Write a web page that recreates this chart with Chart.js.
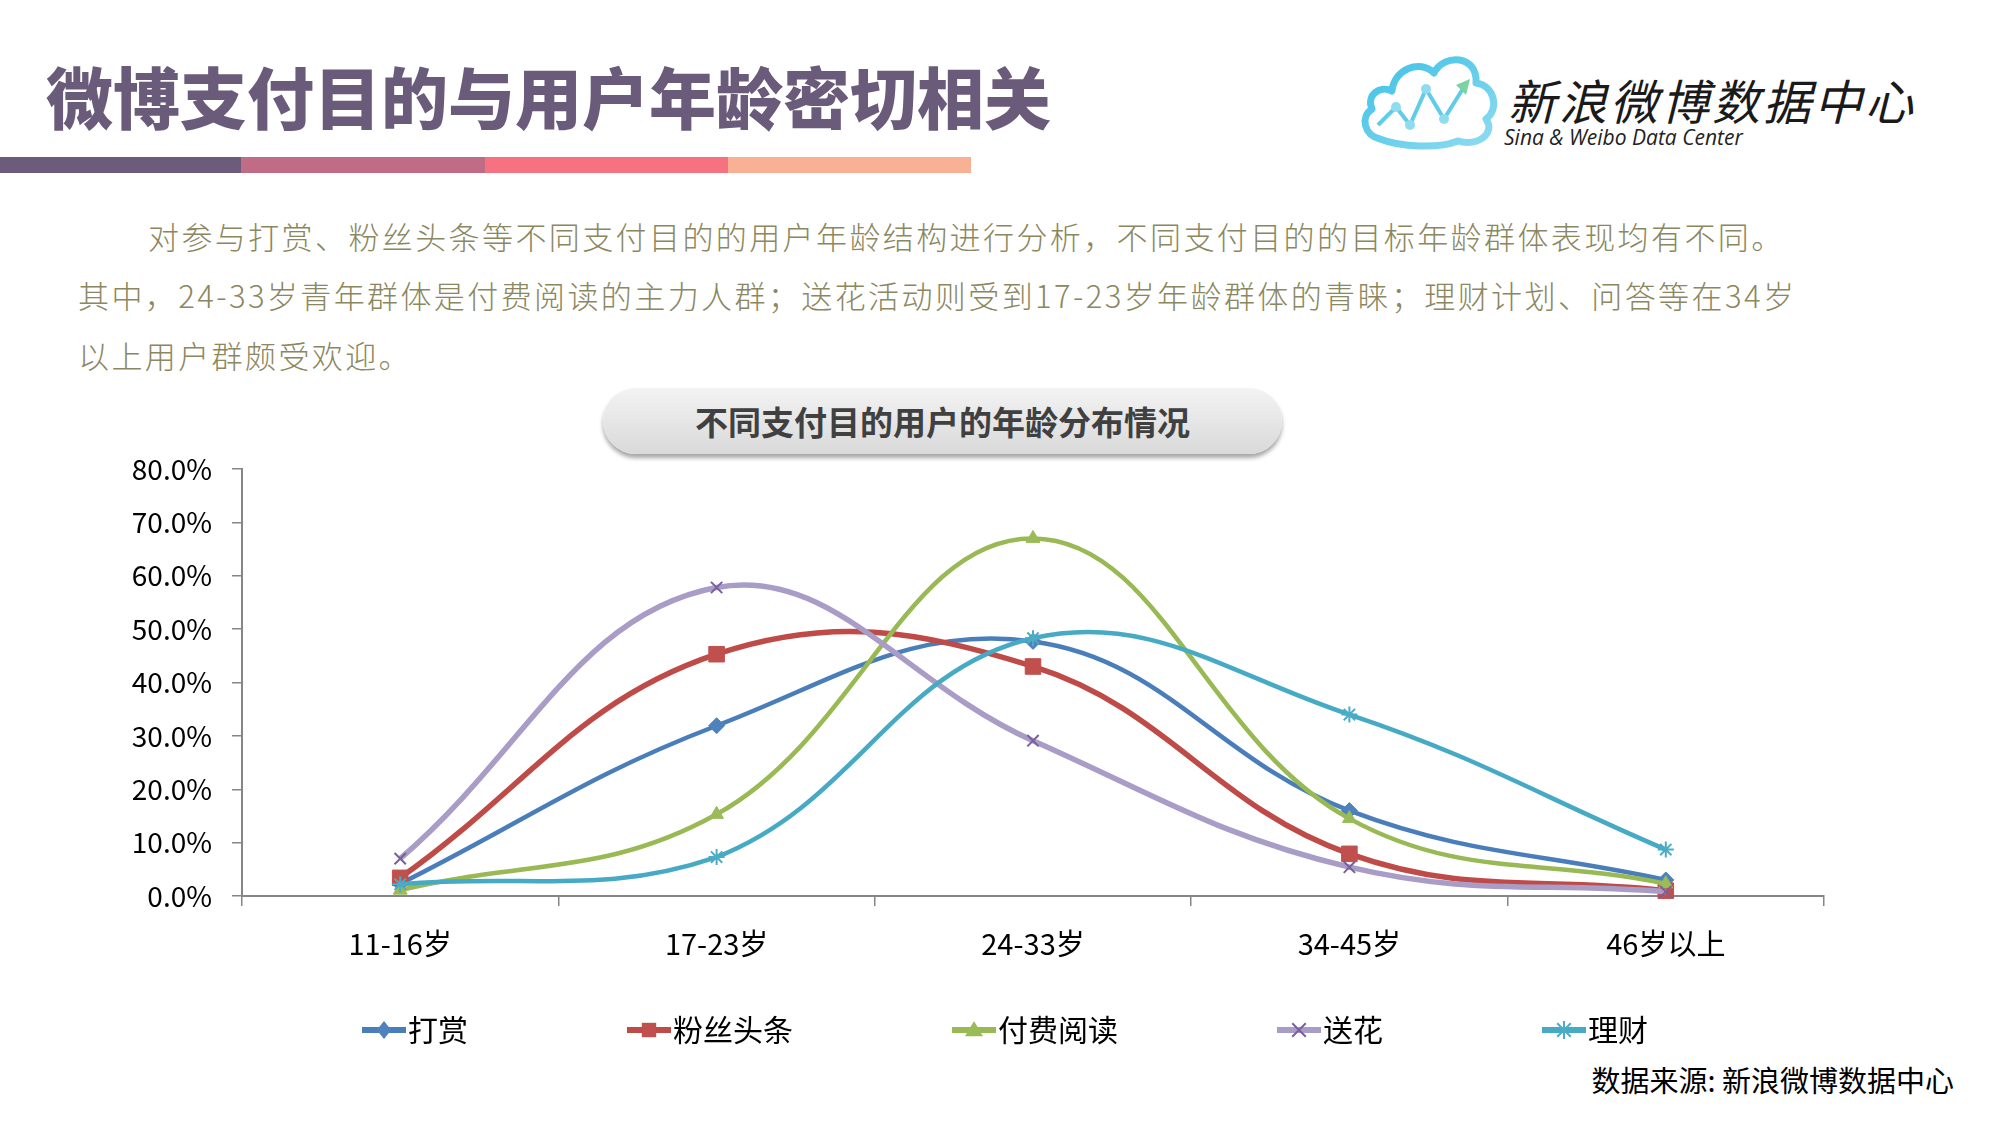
<!DOCTYPE html>
<html>
<head>
<meta charset="utf-8">
<script src="https://cdn.jsdelivr.net/npm/chart.js@4.4.1/dist/chart.umd.min.js"></script>
<style>
    html, body { margin: 0; padding: 0; background: #fff; }
    body { width: 2000px; height: 1125px; position: relative; overflow: hidden; font-family: 'Noto Sans CJK SC', 'Noto Sans', sans-serif; }
    .abs { position: absolute; white-space: nowrap; }
    #title { left: 46px; top: 60px; font-size: 67px; line-height: 70px; font-weight: 900; color: #6b5b7b; }
    .bar { position: absolute; top: 157px; height: 16px; }
    .para { font-size: 31px; line-height: 40px; letter-spacing: 2.4px; color: #8b8760; font-weight: 300; }
    #pill { left: 603px; top: 388px; width: 679px; height: 66px; border-radius: 33px;
            background: linear-gradient(#f3f3f3, #d9d9d9); box-shadow: 0 4px 4px rgba(0,0,0,0.35);
            text-align: center; line-height: 66px; font-size: 33px; font-weight: 700; color: #404040; }
    #logoCn { left: 1508px; top: 71px; font-size: 48px; line-height: 56px; font-style: italic; letter-spacing: 3px; color: #1a1a1a; }
    #logoEn { left: 1504px; top: 124px; font-size: 21px; line-height: 26px; font-style: italic; color: #222; font-family: 'Open Sans', sans-serif; }
    #source { right: 46px; top: 1059px; font-size: 29px; line-height: 40px; color: #000; }
    #chartBox { position: absolute; left: 0; top: 440px; width: 2000px; height: 615px; }
</style>
</head>
<body>
<div id="title" class="abs">微博支付目的与用户年龄密切相关</div>
<div class="bar" style="left:0;width:241px;background:#6c5b7b"></div>
<div class="bar" style="left:241px;width:244px;background:#c06c84"></div>
<div class="bar" style="left:485px;width:243px;background:#f67280"></div>
<div class="bar" style="left:728px;width:243px;background:#f8b195"></div>

<svg class="abs" style="left:1358px;top:45px" width="145" height="108" viewBox="0 0 145 108">
    <defs>
        <linearGradient id="cloudGrad" x1="0" y1="0" x2="1" y2="1">
            <stop offset="0" stop-color="#3ec0e6"/>
            <stop offset="1" stop-color="#8fdcf0"/>
        </linearGradient>
    </defs>
    <path d="M22 94 C6 90 2 72 14 64 C8 50 22 40 34 46 C36 24 62 14 76 28 C86 8 120 10 118 38 C136 40 142 64 128 74 C138 88 120 102 100 96 C80 104 42 102 22 94 Z"
          fill="none" stroke="url(#cloudGrad)" stroke-width="7" stroke-linejoin="round"/>
    <polyline points="20,80 38,62 52,80 68,44 86,74 106,42" fill="none" stroke="#5fcde8" stroke-width="4"/>
    <polygon points="112,34 98,40 108,50" fill="#7ad3a0"/>
    <circle cx="38" cy="62" r="5" fill="#8fdcf0"/>
    <circle cx="52" cy="80" r="5" fill="#8fdcf0"/>
    <circle cx="68" cy="44" r="5" fill="#8fdcf0"/>
    <circle cx="86" cy="74" r="5" fill="#8fdcf0"/>
</svg>
<div id="logoCn" class="abs">新浪微博数据中心</div>
<div id="logoEn" class="abs">Sina &amp; Weibo Data Center</div>

<div class="abs para" style="left:148px;top:216px">对参与打赏、粉丝头条等不同支付目的的用户年龄结构进行分析，不同支付目的的目标年龄群体表现均有不同。</div>
<div class="abs para" style="left:78px;top:275px">其中，24-33岁青年群体是付费阅读的主力人群；送花活动则受到17-23岁年龄群体的青睐；理财计划、问答等在34岁</div>
<div class="abs para" style="left:78px;top:335px">以上用户群颇受欢迎。</div>

<div id="pill" class="abs">不同支付目的用户的年龄分布情况</div>

<div id="chartBox"><canvas id="ageChart" width="2000" height="615"></canvas></div>
<div id="source" class="abs">数据来源: 新浪微博数据中心</div>

<script>
// 年龄段
const ageGroups = ['11-16岁', '17-23岁', '24-33岁', '34-45岁', '46岁以上'];
const seriesNames = ['打赏', '粉丝头条', '付费阅读', '送花', '理财'];

// 各支付目的的年龄占比 (%)
const rewardValues = [2.3, 31.9, 47.7, 16.0, 3.0];
const fanHeadlineValues = [3.4, 45.3, 43.0, 7.9, 1.0];
const paidReadingValues = [1.1, 15.3, 67.0, 14.5, 2.3];
const flowerValues = [7.0, 57.8, 29.1, 5.4, 0.8];
const financeValues = [2.2, 7.3, 48.3, 34.0, 8.7];

// y 轴刻度
const yTickLabels = ['0.0%', '10.0%', '20.0%', '30.0%', '40.0%', '50.0%', '60.0%', '70.0%', '80.0%'];
const yMax = 80;
const yStep = 10;

const lineColors = ['#4a7ebb', '#be4b48', '#98b954', '#a99cc6', '#46aac5'];
const markerColors = ['#4f81bd', '#c0504d', '#9bbb59', '#7a5f9e', '#4bacc6'];
const markerStyles = ['rectRot', 'rect', 'triangle', 'crossRot', 'star'];
const lineWidths = [4.5, 5.5, 4.5, 5.5, 4.5];
const allValues = [rewardValues, fanHeadlineValues, paidReadingValues, flowerValues, financeValues];

const FONT = "'Noto Sans CJK SC', 'Noto Sans', sans-serif";
const legendFont = 30;
const legendBox = 150;

// 图例小图: 线段 + 标记
function drawMarker(ctx, style, x, y, r, color) {
    ctx.fillStyle = color;
    ctx.strokeStyle = color;
    ctx.lineWidth = 2;
    ctx.beginPath();
    if (style === 'rectRot') {
        ctx.moveTo(x, y - r); ctx.lineTo(x + r * 0.8, y); ctx.lineTo(x, y + r); ctx.lineTo(x - r * 0.8, y);
        ctx.closePath(); ctx.fill();
    } else if (style === 'rect') {
        const h = r * 0.8;
        ctx.rect(x - h, y - h, h * 2, h * 2); ctx.fill();
    } else if (style === 'triangle') {
        ctx.moveTo(x, y - r); ctx.lineTo(x + r, y + r * 0.7); ctx.lineTo(x - r, y + r * 0.7);
        ctx.closePath(); ctx.fill();
    } else if (style === 'crossRot') {
        const d = r * 0.75;
        ctx.moveTo(x - d, y - d); ctx.lineTo(x + d, y + d);
        ctx.moveTo(x + d, y - d); ctx.lineTo(x - d, y + d); ctx.stroke();
    } else {
        const d = r * 0.75;
        ctx.moveTo(x - d, y - d); ctx.lineTo(x + d, y + d);
        ctx.moveTo(x + d, y - d); ctx.lineTo(x - d, y + d);
        ctx.moveTo(x, y - r); ctx.lineTo(x, y + r); ctx.stroke();
    }
}

const legendImages = seriesNames.map((name, i) => {
    const c = document.createElement('canvas');
    c.width = legendBox + 26;
    c.height = 30;
    const ctx = c.getContext('2d');
    ctx.strokeStyle = lineColors[i];
    ctx.lineWidth = 6;
    ctx.beginPath();
    ctx.moveTo(c.width - 44, 15);
    ctx.lineTo(c.width, 15);
    ctx.stroke();
    drawMarker(ctx, markerStyles[i], c.width - 22, 15, 9, markerColors[i]);
    return c;
});

const datasets = seriesNames.map((name, i) => ({
    label: name,
    data: allValues[i],
    borderColor: lineColors[i],
    borderWidth: lineWidths[i],
    tension: 0.4,
    pointStyle: markerStyles[i],
    pointRadius: markerStyles[i] === 'rect' ? 11 : 8,
    pointBackgroundColor: markerColors[i],
    pointBorderColor: markerColors[i],
    pointBorderWidth: (markerStyles[i] === 'crossRot' || markerStyles[i] === 'star') ? 2 : 1,
    clip: false,
    order: seriesNames.length - i
}));

new Chart(document.getElementById('ageChart'), {
    type: 'line',
    data: { labels: ageGroups, datasets: datasets },
    options: {
        responsive: false,
        animation: false,
        layout: { padding: { left: 67, right: 176, top: 29, bottom: 0 } },
        plugins: {
            tooltip: { enabled: false },
            legend: {
                position: 'bottom',
                labels: {
                    usePointStyle: true,
                    pointStyleWidth: legendBox,
                    padding: 40,
                    color: '#000',
                    font: { family: FONT, size: legendFont },
                    generateLabels: () => seriesNames.map((name, i) => ({
                        text: name,
                        pointStyle: legendImages[i],
                        fillStyle: lineColors[i],
                        strokeStyle: lineColors[i],
                        lineWidth: 0,
                        hidden: false,
                        datasetIndex: i
                    }))
                }
            }
        },
        scales: {
            x: {
                offset: true,
                afterFit: (scale) => { scale.height = 79; },
                grid: { offset: true, drawOnChartArea: false, drawTicks: true, tickLength: 10, color: '#868686', lineWidth: 1.5 },
                border: { color: '#868686', width: 2 },
                ticks: { color: '#000', padding: 21, font: { family: FONT, size: 29 } }
            },
            y: {
                min: 0,
                max: yMax,
                afterFit: (scale) => { scale.width = 175; scale.paddingTop = 0; },
                grid: { drawOnChartArea: false, drawTicks: true, tickLength: 10, color: '#868686', lineWidth: 1.5 },
                border: { color: '#868686', width: 2 },
                ticks: {
                    stepSize: yStep,
                    color: '#000',
                    padding: 20,
                    font: { family: FONT, size: 28, lineHeight: 1 },
                    callback: (v, i) => yTickLabels[i]
                }
            }
        }
    }
});
</script>
</body>
</html>
